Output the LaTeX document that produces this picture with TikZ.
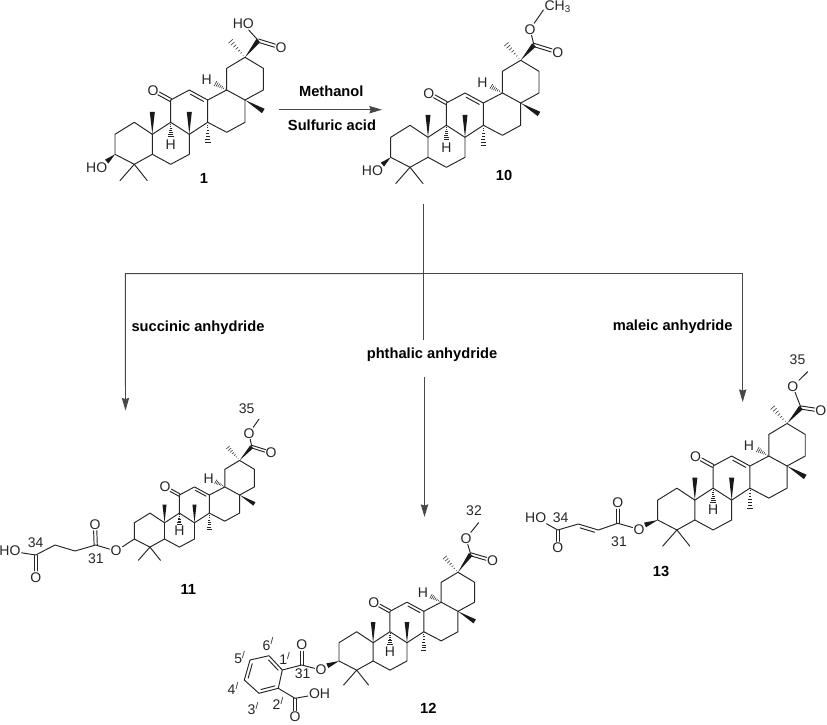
\documentclass[tikz,border=0pt]{standalone}
\usepackage{fontspec}
\setmainfont{Liberation Sans}
\usetikzlibrary{calc,arrows.meta}
\tikzset{
  bond/.style={line width=0.72pt,line cap=round,line join=round,draw=black!85},
  atom/.style={inner sep=0.6pt,font=\fontsize{10.5}{11}\selectfont,text=black!85},
  numlab/.style={inner sep=0pt,font=\fontsize{10.5}{11}\selectfont,text=black!85},
  cpd/.style={inner sep=0pt,font=\fontsize{11}{12}\selectfont\bfseries},
  rxn/.style={inner sep=0pt,font=\fontsize{11}{12}\selectfont\bfseries},
  flow/.style={line width=0.7pt,draw=black!72},
  flowtip/.style={flow,-{Stealth[length=9.5pt,width=5.5pt,inset=1pt]}},
}
\newcommand{\wedgeb}[2]{\fill[black!90] (#1) -- ($(#2)!1.9pt!90:(#1)$) -- ($(#2)!1.9pt!-90:(#1)$) -- cycle;}
\newcommand{\hashb}[2]{\foreach \hf in {0.12,0.26,0.40,0.54,0.68,0.82,0.96}{\pgfmathsetmacro\hw{\hf*2.2}
  \draw[line width=0.4pt,black!85] ($(#1)!\hf!(#2)!\hw pt!90:(#2)$) -- ($(#1)!\hf!(#2)!\hw pt!-90:(#2)$);}}
% inner line of a double bond; #3 = +90 or -90 selects the side
\newcommand{\dblin}[3]{\draw[bond] ($(#1)!0.14!(#2)!2.4pt!#3:(#2)$) -- ($(#2)!0.14!(#1)!2.4pt!-#3:(#1)$);}
% C=O with symmetric lines, ending short of the atom label
\newcommand{\dblo}[2]{\draw[bond,shorten >=4.8pt] ($(#1)!1.2pt!90:(#2)$) -- ($(#2)!1.2pt!-90:(#1)$);
  \draw[bond,shorten >=4.8pt] ($(#1)!1.2pt!-90:(#2)$) -- ($(#2)!1.2pt!90:(#1)$);}
% triterpene skeleton: prefix, x, y, scale, extra drawing inside the scope
\newcommand{\tri}[5]{\begin{scope}[shift={(#2,#3)},scale=#4]
  \coordinate (#1c3) at (0,0);
  \coordinate (#1c2) at (0,-20);
  \coordinate (#1c1) at (19.3,-32);
  \coordinate (#1c10) at (37.3,-20);
  \coordinate (#1c5) at (37.3,0);
  \coordinate (#1c4) at (19.3,10);
  \coordinate (#1m4a) at (5,26.3);
  \coordinate (#1m4b) at (32.3,26.3);
  \coordinate (#1c6) at (55.7,10);
  \coordinate (#1c7) at (74.3,0);
  \coordinate (#1c8) at (74.3,-20);
  \coordinate (#1c9) at (55.7,-32);
  \coordinate (#1c11) at (55.7,-54.3);
  \coordinate (#1c12) at (74.3,-64.3);
  \coordinate (#1c13) at (92.7,-54.3);
  \coordinate (#1c14) at (92.7,-32);
  \coordinate (#1c15) at (111.7,-22);
  \coordinate (#1c16) at (130,-32);
  \coordinate (#1c17) at (130,-54.3);
  \coordinate (#1c18) at (111.7,-64.3);
  \coordinate (#1c19) at (111.7,-86);
  \coordinate (#1c20) at (130,-97);
  \coordinate (#1c21) at (148.3,-86);
  \coordinate (#1c22) at (148.3,-64.3);
  \coordinate (#1m10) at (37.3,-42.5);
  \coordinate (#1m8) at (74.3,-42.5);
  \coordinate (#1m17) at (148.3,-43.3);
  \coordinate (#1m14) at (92.7,-11);
  \coordinate (#1m20) at (115,-113.7);
  \coordinate (#1h18e) at (100,-71);
  \coordinate (#1h9e) at (55.7,-17.5);
  \node[atom] (#1o11) at (38,-64) {O};
  \node[atom] (#1h18) at (91.7,-74.8) {H};
  \node[atom] (#1h9) at (55.7,-10) {H};
  \draw[bond] (#1c3) -- (#1c2) -- (#1c1) -- (#1c10) -- (#1c5) -- (#1c4) -- cycle;
  \draw[bond] (#1c5) -- (#1c6) -- (#1c7) -- (#1c8) -- (#1c9) -- (#1c10);
  \draw[bond] (#1c9) -- (#1c11) -- (#1c12) -- (#1c13) -- (#1c14) -- (#1c8);
  \draw[bond] (#1c14) -- (#1c15) -- (#1c16) -- (#1c17) -- (#1c18) -- (#1c13);
  \draw[bond] (#1c18) -- (#1c19) -- (#1c20) -- (#1c21) -- (#1c22) -- (#1c17);
  \draw[bond] (#1c4) -- (#1m4a) (#1c4) -- (#1m4b);
  \dblin{#1c12}{#1c13}{-90}
  \dblo{#1c11}{#1o11}
  \wedgeb{#1c10}{#1m10}
  \wedgeb{#1c8}{#1m8}
  \wedgeb{#1c17}{#1m17}
  \hashb{#1c14}{#1m14}
  \hashb{#1c20}{#1m20}
  \hashb{#1c18}{#1h18e}
  \hashb{#1c9}{#1h9e}
  #5
\end{scope}}
% C20 ester arm: prefix, C28, =O, -O-, methyl end
\newcommand{\ester}[5]{
  \coordinate (#1c28) at (#2);
  \node[atom] (#1oe) at (#3) {O};
  \node[atom] (#1os) at (#4) {O};
  \coordinate (#1me) at (#5);
  \wedgeb{#1c20}{#1c28}
  \dblo{#1c28}{#1oe}
  \draw[bond] (#1c28) -- (#1os) -- (#1me);
}
\begin{document}
\begin{tikzpicture}[x=0.75pt,y=-0.75pt]
\useasboundingbox (0,0) rectangle (827,724);

% ---- compound 1
\tri{a}{115}{154.3}{1}{
  \coordinate (ac28) at (143.3,-113.7);
  \node[atom] (aoe) at (166,-106.7) {O};
  \node[atom] (aoh) at (128.3,-130.3) {HO};
  \wedgeb{ac20}{ac28}
  \dblo{ac28}{aoe}
  \draw[bond] (ac28) -- (aoh);
  \coordinate (aw3) at (-8.3,7.3);
  \node[atom] (aho) at (-18.3,13.3) {HO};
  \wedgeb{ac3}{aw3}
}
\node[cpd] (l1) at (204,178) {1};

% ---- compound 10
\tri{b}{390.7}{157.3}{1}{
  \ester{b}{143.3,-112.3}{167,-105}{139.3,-128}{152.7,-147.3}
  \node[atom] (bch) at (167,-151) {CH\textsubscript{3}};
  \coordinate (bw3) at (-8.3,7.3);
  \node[atom] (bho) at (-18.3,13.3) {HO};
  \wedgeb{bc3}{bw3}
}
\node[cpd] (l10) at (504,175.7) {10};

% ---- compound 11
\tri{c}{134.3}{539}{0.81}{
  \ester{c}{145,-114}{169,-106.5}{141.6,-130.5}{154,-148}
}
\node[numlab] (n35c) at (246.7,408.5) {35};
\node[atom] (cos) at (116,551) {O};
\coordinate (cc31) at (95.7,545);
\node[atom] (coa) at (95,524.3) {O};
\coordinate (cca) at (75,551);
\coordinate (ccb) at (55,545);
\coordinate (cc34) at (35.7,555);
\node[atom] (cob) at (35.7,577.3) {O};
\node[atom] (cho) at (10,551) {HO};
\draw[bond] (cc3) -- (cos) -- (cc31) -- (cca) -- (ccb) -- (cc34) -- (cho);
\dblo{cc31}{coa}
\dblo{cc34}{cob}
\node[numlab] (n34c) at (35.7,543) {34};
\node[numlab] (n31c) at (96,558.3) {31};
\node[cpd] (l11) at (188.3,589) {11};

% ---- compound 12
\tri{d}{339}{661}{0.915}{
  \ester{d}{144,-116.6}{167.7,-109.7}{138.8,-134}{152.6,-151.2}
}
\node[numlab] (n32d) at (474,510.5) {32};
\node[atom] (dos) at (321,670) {O};
\coordinate (dw3) at (327.3,665.7);
\wedgeb{dc3}{dw3}
\coordinate (dc31) at (301.7,665);
\node[atom] (doa) at (301.7,645) {O};
\coordinate (dr1) at (282.3,670);
\coordinate (dr6) at (269,655.7);
\coordinate (dr5) at (250,660);
\coordinate (dr4) at (244.3,680);
\coordinate (dr3) at (259,693.3);
\coordinate (dr2) at (278.3,688.3);
\coordinate (dcb) at (295,698.3);
\node[atom] (doh) at (319.5,694) {OH};
\node[atom] (dob) at (295,717) {O};
\draw[bond] (dr1) -- (dr6) -- (dr5) -- (dr4) -- (dr3) -- (dr2) -- cycle;
\dblin{dr1}{dr6}{90}
\dblin{dr5}{dr4}{90}
\dblin{dr3}{dr2}{90}
\draw[bond] (dr1) -- (dc31) -- (dos);
\dblo{dc31}{doa}
\draw[bond] (dr2) -- (dcb) -- (doh);
\dblo{dcb}{dob}
\node[numlab] at (268.3,644) {6\textsuperscript{/}};
\node[numlab] at (240,657.7) {5\textsuperscript{/}};
\node[numlab] at (233.3,688.3) {4\textsuperscript{/}};
\node[numlab] at (253.3,708.3) {3\textsuperscript{/}};
\node[numlab] at (278.3,703.3) {2\textsuperscript{/}};
\node[numlab] at (285,658.3) {1\textsuperscript{/}};
\node[numlab] (n31d) at (302.7,673.3) {31};
\node[cpd] (l12) at (428.3,708.3) {12};

% ---- compound 13
\tri{e}{657.7}{520}{0.995}{
  \ester{e}{144,-113}{164,-110}{135.7,-134.3}{150.7,-149}
}
\node[numlab] (n35e) at (797.5,360) {35};
\node[atom] (eos) at (639,529.3) {O};
\coordinate (ew3) at (645,525);
\wedgeb{ec3}{ew3}
\coordinate (ec31) at (617.7,523.3);
\node[atom] (eoa) at (617.7,502.7) {O};
\coordinate (eca) at (598.3,530);
\coordinate (ecb) at (578.3,524);
\coordinate (ec34) at (557.7,530);
\node[atom] (eob) at (557.7,547.7) {O};
\node[atom] (eho) at (535.7,517.7) {HO};
\draw[bond] (eos) -- (ec31) -- (eca) -- (ecb) -- (ec34) -- (eho);
\dblin{eca}{ecb}{90}
\dblo{ec31}{eoa}
\dblo{ec34}{eob}
\node[numlab] (n34e) at (560.7,517.7) {34};
\node[numlab] (n31e) at (619,541.7) {31};
\node[cpd] (l13) at (661,571.7) {13};

% ---- reaction arrows and labels
\coordinate (ra) at (279,109.7);
\coordinate (rb) at (382,109.7);
\draw[flowtip] (ra) -- (rb);
\node[rxn] (methanol) at (331.3,91.5) {Methanol};
\node[rxn] (sulf) at (332,125.5) {Sulfuric acid};

\node[rxn] (succ) at (198,327.5) {succinic anhydride};
\node[rxn] (phth) at (432,355) {phthalic anhydride};
\node[rxn] (male) at (672.7,327) {maleic anhydride};

\coordinate (vt) at (423.8,204);
\coordinate (jn) at (423.8,273.7);
\coordinate (vb) at (423.8,340);
\coordinate (vc) at (424.5,376.7);
\coordinate (vd) at (424.5,517);
\coordinate (hl) at (125.3,273.7);
\coordinate (hr) at (742.7,273.7);
\coordinate (tl) at (125.5,410.5);
\coordinate (tr) at (742.7,402);
\draw[flow] (vt) -- (vb);
\draw[flowtip] (vc) -- (vd);
\draw[flowtip] (jn) -- (hl) -- (tl);
\draw[flowtip] (jn) -- (hr) -- (tr);
\end{tikzpicture}
\end{document}
